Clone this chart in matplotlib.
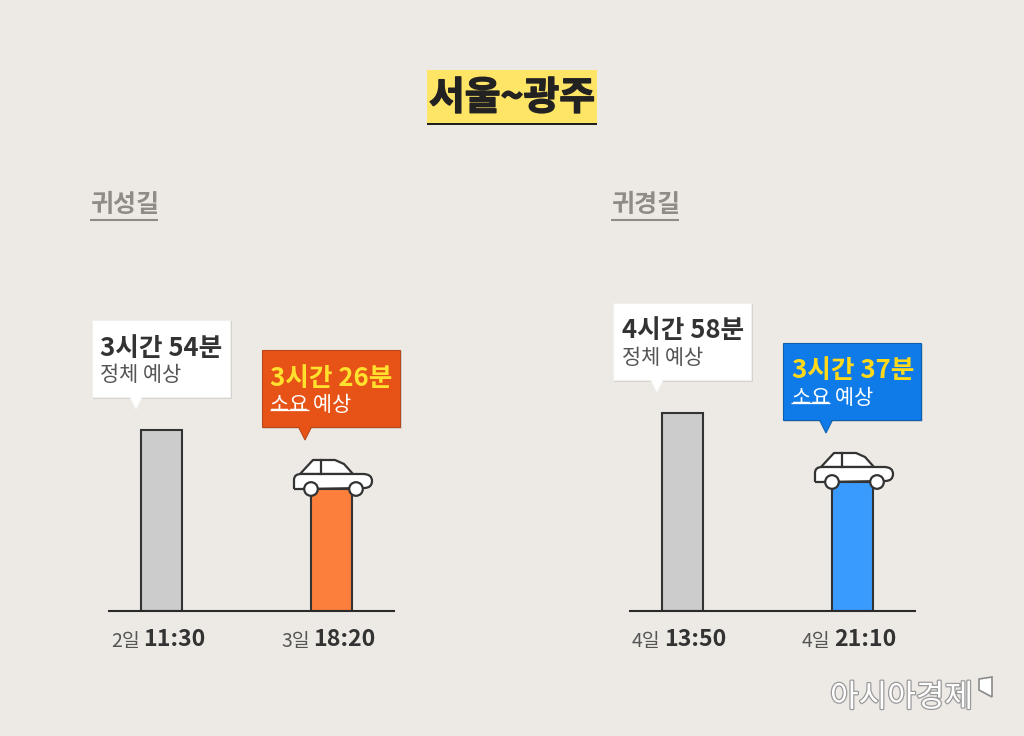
# 서울~광주 귀성길/귀경길 예상 소요시간 차트

import matplotlib
matplotlib.use('Agg')
import matplotlib.pyplot as plt
import matplotlib.patheffects as pe
from matplotlib.patches import Rectangle, Polygon, Circle, PathPatch
from matplotlib.path import Path

plt.rcParams['font.family'] = ['Noto Sans CJK KR', 'DejaVu Sans']

title = '서울~광주'
section_names = ['귀성길', '귀경길']
bar_left = [181, 122]
bar_right = [198, 129]
dates_left = ['2일', '3일']
times_left = ['11:30', '18:20']
dates_right = ['4일', '4일']
times_right = ['13:50', '21:10']
durations_left = ['3시간 54분', '3시간 26분']
durations_right = ['4시간 58분', '3시간 37분']
captions = ['정체 예상', '소요 예상']
source = '아시아경제'

BG = '#edeae5'
DARK = '#333333'
W, H = 1024, 736
BASE_Y = 611

fig = plt.figure(figsize=(W / 100, H / 100), dpi=100, facecolor=BG)


def draw_bars(x0, heights, colors):
    # 축 하나가 패널 하나, 막대 간격 170px
    ax = fig.add_axes([x0 / W, (H - BASE_Y) / H, 287 / W, 250 / H])
    ax.patch.set_alpha(0)
    ax.bar([0, 1], heights, width=0.245, color=colors, edgecolor=DARK, linewidth=1.5)
    ax.set_xlim(-53.5 / 170, 233.5 / 170)
    ax.set_ylim(0, 250)
    for s in ['top', 'left', 'right']:
        ax.spines[s].set_visible(False)
    ax.spines['bottom'].set_color('#2b2b2b')
    ax.spines['bottom'].set_linewidth(1.5)
    ax.spines['bottom'].set_capstyle('butt')
    ax.set_xticks([])
    ax.set_yticks([])


draw_bars(108, bar_left, ['#cccccc', '#fd7f3c'])
draw_bars(629, bar_right, ['#cccccc', '#3a9bff'])

# 나머지 요소는 픽셀 좌표 오버레이에 그림
ov = fig.add_axes([0, 0, 1, 1])
ov.set_xlim(0, W)
ov.set_ylim(H, 0)
ov.axis('off')
ov.patch.set_alpha(0)


def callout(x, y, color, edge, tail_x, dur, dur_color, cap, cap_color, underline=False):
    w, h = 138, 77
    tail = [(tail_x - 7, y + h - 1), (tail_x + 7, y + h - 1), (tail_x, y + h + 13)]
    ov.add_patch(Rectangle((x + 1, y + 1), w + 1, h + 1, fc='#000000', ec='none', alpha=0.10))
    ov.add_patch(Polygon(tail, closed=True, fc=color, ec=edge, lw=0.8, zorder=2))
    ov.add_patch(Rectangle((x, y), w, h, fc=color, ec=edge, lw=0.8, zorder=3))
    ov.add_patch(Polygon([(tail_x - 6, y + h - 1), (tail_x + 6, y + h - 1), (tail_x, y + h + 11)],
                         closed=True, fc=color, ec='none', zorder=4))
    ov.text(x + 8.5, y + 28, dur, fontsize=18.5, fontweight='bold', color=dur_color, va='center', zorder=5)
    ov.text(x + 8.5, y + 55, cap, fontsize=15, color=cap_color, va='center', zorder=5)
    if underline:
        ov.plot([x + 8, x + 47], [y + 60, y + 60], color=cap_color, lw=0.9, zorder=5,
                solid_capstyle='butt')


def car(x, top):
    # x: 막대 왼쪽, top: 막대 위쪽 y
    ox, oy = x - 310, top - 489
    roof = [(300, 474), (313, 460), (335, 460), (344, 464), (353, 474)]
    ov.add_patch(Polygon([(a + ox, b + oy) for a, b in roof], closed=True, fc='white', ec=DARK, lw=1.6,
                         zorder=6, joinstyle='round'))
    ov.plot([321 + ox, 321 + ox], [460 + oy, 474 + oy], color=DARK, lw=1.6, zorder=7)
    codes = [Path.MOVETO, Path.LINETO, Path.CURVE3, Path.CURVE3, Path.LINETO, Path.CURVE3, Path.CURVE3,
             Path.CURVE3, Path.CURVE3, Path.LINETO, Path.LINETO]
    body = [(294, 489), (294, 480), (294, 474), (301, 474), (363, 474), (372, 474), (372, 481),
            (372, 488), (364, 488), (300, 489), (294, 489)]
    ov.add_patch(PathPatch(Path([(a + ox, b + oy) for a, b in body], codes), fc='white', ec=DARK, lw=1.6,
                           zorder=6.5))
    ov.add_patch(Circle((311 + ox, 489 + oy), 6.8, fc='white', ec=DARK, lw=1.6, zorder=8))
    ov.add_patch(Circle((356 + ox, 489 + oy), 6.8, fc='white', ec=DARK, lw=1.6, zorder=8))


def time_label(x_date, x_time, date, tm):
    ov.text(x_date, 641, date, fontsize=14, color='#555555', va='center')
    ov.text(x_time, 640, tm, fontsize=16.7, fontweight='bold', color=DARK, va='center')


# 제목
ov.add_patch(Rectangle((427, 70), 170, 54, fc='#ffe566', ec='none'))
ov.plot([427, 597], [124, 124], color='#1a1a1a', lw=1.4, solid_capstyle='butt')
ov.text(512, 98, title, fontsize=28, fontweight='bold', color='#222222', ha='center', va='center',
        path_effects=[pe.withStroke(linewidth=1.0, foreground='#222222')])

# 구간 제목
for x, name in zip([90, 611], section_names):
    ov.text(x, 205, name, fontsize=18, fontweight='bold', color='#8f8c85', va='center')
    ov.plot([x, x + 68], [220, 220], color='#8f8c85', lw=1.5, solid_capstyle='butt')

callout(92, 320, 'white', '#f2f0ec', 136, durations_left[0], DARK, captions[0], '#555555')
callout(262, 350, '#e75316', '#b8481a', 305, durations_left[1], '#ffe12e', captions[1], 'white', True)
callout(613, 303, 'white', '#f2f0ec', 657, durations_right[0], DARK, captions[0], '#555555')
callout(783, 343, '#0f7be8', '#0c5fb0', 826, durations_right[1], '#ffd91a', captions[1], 'white', True)

car(310, BASE_Y - bar_left[1])
car(831, BASE_Y - bar_right[1])

time_label(111, 143, dates_left[0], times_left[0])
time_label(281, 313, dates_left[1], times_left[1])
time_label(632, 664, dates_right[0], times_right[0])
time_label(802, 834, dates_right[1], times_right[1])

# 워터마크
ov.text(830, 698, source, fontsize=22.4, color='white', va='center',
        path_effects=[pe.withStroke(linewidth=1.8, foreground='#9a9a9a')])
ov.add_patch(Polygon([(979, 679), (992, 677), (992, 697), (979, 690)], closed=True,
                     fc='white', ec='#8a8a8a', lw=1.2))

fig.savefig('out.png', dpi=100, facecolor=BG)
